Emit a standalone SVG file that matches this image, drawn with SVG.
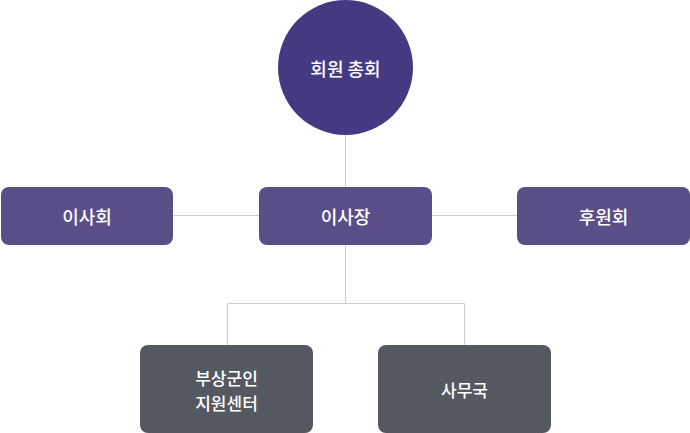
<svg xmlns="http://www.w3.org/2000/svg" width="690" height="433" viewBox="0 0 690 433">
<style>
.t{font-family:"Noto Sans CJK KR","Noto Sans",sans-serif;font-size:18px;font-weight:500;fill:#fff;text-anchor:middle;dominant-baseline:central}
.s{font-size:17px}
.p{fill:#5a4e89}
.g{fill:#545861}
.c{stroke:#cccccc;stroke-width:1;fill:none}
</style>
<rect width="690" height="433" fill="#fff"/>
<g id="connectors">
<path class="c" d="M345.5 135V187M173 215.5H259M432 215.5H517M345.5 245V303.5M227.5 345V303.5H464.5V345"/>
</g>
<g id="general-assembly">
<circle cx="345.5" cy="67.5" r="67.5" fill="#453a82"/>
<text class="t" x="345.5" y="68">회원 총회</text>
</g>
<g id="board">
<rect class="p" x="1" y="187" width="172" height="58" rx="8"/>
<text class="t" x="87" y="216">이사회</text>
</g>
<g id="chairman">
<rect class="p" x="259" y="187" width="173" height="58" rx="8"/>
<text class="t" x="345.5" y="216">이사장</text>
</g>
<g id="sponsors">
<rect class="p" x="517" y="187" width="173" height="58" rx="8"/>
<text class="t" x="603.5" y="216">후원회</text>
</g>
<g id="support-center">
<rect class="g" x="140" y="345" width="173" height="88" rx="8"/>
<text class="t s" x="226.5" y="377">부상군인</text>
<text class="t s" x="226.5" y="402">지원센터</text>
</g>
<g id="secretariat">
<rect class="g" x="378" y="345" width="173" height="88" rx="8"/>
<text class="t s" x="464.5" y="389">사무국</text>
</g>
</svg>
